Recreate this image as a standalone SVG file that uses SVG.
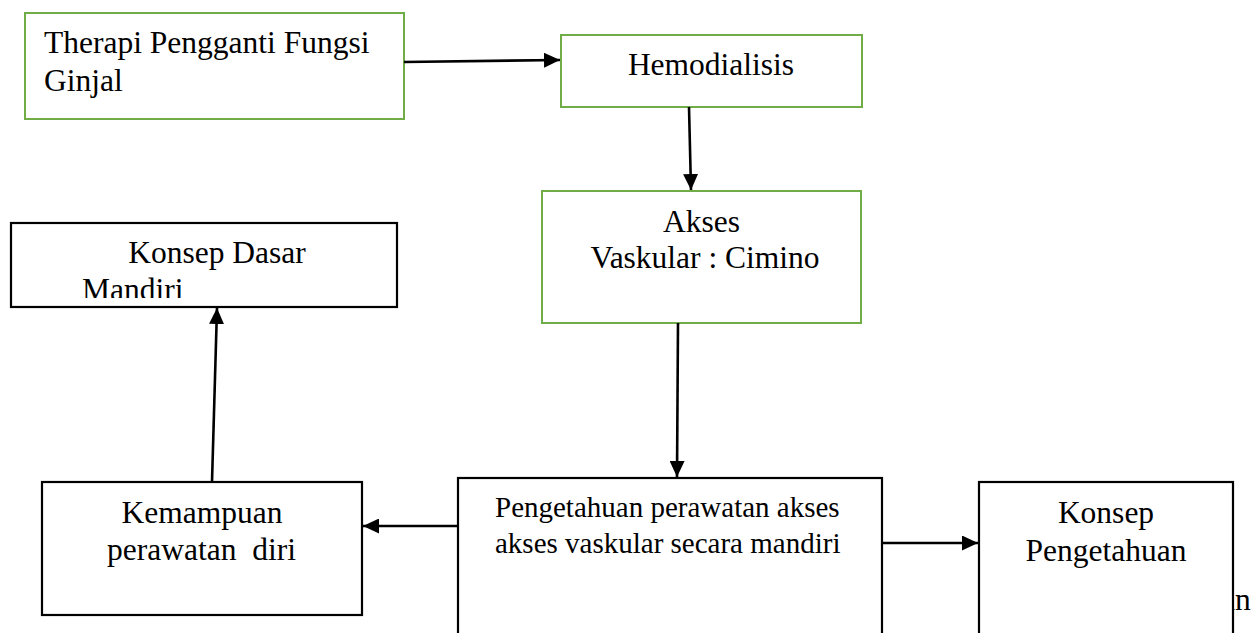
<svg xmlns="http://www.w3.org/2000/svg" width="1255" height="633" viewBox="0 0 1255 633">
<style>
  text { font-family: "Liberation Serif", "Times New Roman", serif; fill: #000; white-space: pre; }
  .t { font-size: 31.5px; }
  .s { font-size: 29px; }
  .mid { text-anchor: middle; }
  .green { fill: #fff; stroke: #70AD47; stroke-width: 2; }
  .black { fill: #fff; stroke: #000; stroke-width: 2.2; }
  .conn { stroke: #000; stroke-width: 2.6; fill: none; marker-end: url(#ah); }
</style>
<defs>
  <marker id="ah" markerUnits="userSpaceOnUse" markerWidth="16" markerHeight="15" refX="16" refY="7.5" orient="auto">
    <path d="M0,0 L16,7.5 L0,15 Z" fill="#000"/>
  </marker>
  <clipPath id="clipMandiri"><rect x="12" y="224" width="384" height="74"/></clipPath>
</defs>
<rect width="1255" height="633" fill="#fff"/>

<text id="stray" class="t" x="1221" y="610">an</text>

<g id="n-therapi">
  <rect class="green" x="25" y="13" width="379" height="106"/>
  <text class="t" x="44" y="53">Therapi Pengganti Fungsi</text>
  <text class="t" x="44" y="91">Ginjal</text>
</g>
<g id="n-hemo">
  <rect class="green" x="561" y="35" width="301" height="72"/>
  <text class="t mid" x="711" y="75">Hemodialisis</text>
</g>
<g id="n-akses">
  <rect class="green" x="542" y="191" width="319" height="132"/>
  <text class="t mid" x="701.5" y="232">Akses</text>
  <text class="t mid" x="705" y="268">Vaskular : Cimino</text>
</g>
<g id="n-konsepdasar">
  <rect class="black" x="11" y="223" width="386" height="84"/>
  <text class="t mid" x="217" y="263">Konsep Dasar</text>
  <text class="t" x="82" y="300" clip-path="url(#clipMandiri)">Mandiri</text>
</g>
<g id="n-kemampuan">
  <rect class="black" x="42" y="482" width="320" height="133"/>
  <text class="t mid" x="202" y="523">Kemampuan</text>
  <text class="t mid" x="201.5" y="560">perawatan  diri</text>
</g>
<g id="n-pengetahuan">
  <rect class="black" x="458" y="478" width="424" height="170"/>
  <text class="s" x="495" y="517">Pengetahuan perawatan akses</text>
  <text class="s" x="495" y="553">akses vaskular secara mandiri</text>
</g>
<g id="n-konseppeng">
  <rect class="black" x="979" y="482" width="254" height="166"/>
  <text class="t mid" x="1106" y="523">Konsep</text>
  <text class="t mid" x="1106" y="561">Pengetahuan</text>
</g>

<g id="connectors">
  <line class="conn" x1="404" y1="62" x2="560" y2="60"/>
  <line class="conn" x1="689" y1="107" x2="691" y2="190"/>
  <line class="conn" x1="678" y1="323" x2="677" y2="477"/>
  <line class="conn" x1="458" y1="526" x2="363" y2="526"/>
  <line class="conn" x1="212" y1="482" x2="217" y2="308"/>
  <line class="conn" x1="882" y1="543" x2="978" y2="543"/>
</g>
</svg>
